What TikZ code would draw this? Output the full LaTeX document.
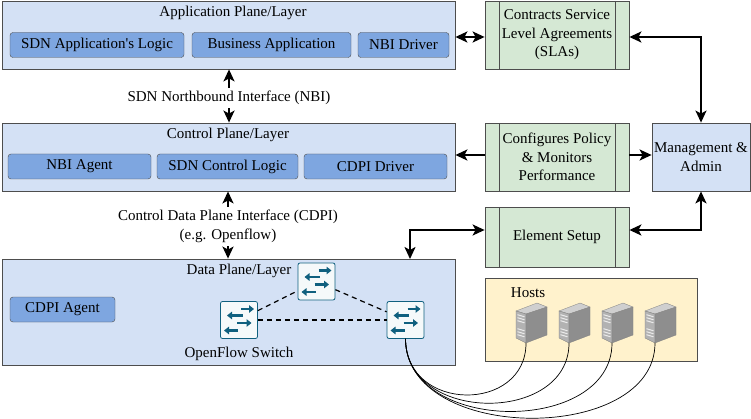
\documentclass[tikz,border=0pt]{standalone}
\usepackage{fontspec}
\setmainfont{Liberation Serif}
\usetikzlibrary{arrows.meta}

\definecolor{layerblue}{HTML}{D4E1F5}
\definecolor{boxblue}{HTML}{7EA6E0}
\definecolor{procgreen}{HTML}{D5E8D4}
\definecolor{hostyellow}{HTML}{FFF2CC}
\definecolor{edgegray}{HTML}{4D4D4D}
\definecolor{switchteal}{HTML}{10607F}
\definecolor{srvtop}{HTML}{CFCFCF}
\definecolor{srvfront}{HTML}{B2B2B2}
\definecolor{srvside}{HTML}{8E8E8E}

\tikzset{
  layer/.style={draw=edgegray, fill=layerblue, line width=0.8pt, minimum width=453pt, inner sep=0pt},
  block/.style={draw=edgegray, fill=boxblue, rounded corners=3pt, minimum height=25pt, inner sep=0pt},
  process/.style={draw=edgegray, fill=procgreen, line width=0.8pt, minimum width=144pt, align=center, inner sep=0pt,
    path picture={\draw[edgegray, line width=0.8pt]
      ([xshift=14pt]path picture bounding box.north west) -- ([xshift=14pt]path picture bounding box.south west)
      ([xshift=-14pt]path picture bounding box.north east) -- ([xshift=-14pt]path picture bounding box.south east);}},
  switchbox/.style={draw=switchteal, fill=white!96!switchteal, line width=0.8pt, rounded corners=2pt,
    minimum size=37pt, inner sep=0pt,
    path picture={
      \begin{scope}[shift={(path picture bounding box.center)}, switchteal, line width=2.6pt,
        -{Triangle[length=5pt,width=7.5pt]}]
        \draw (2,-11) -- (15,-11);
        \draw (3.5,-4.5) -- (-12,-4.5);
        \draw (-2,3) -- (12.5,3);
        \draw (-1,10.5) -- (-15,10.5);
      \end{scope}}},
  arr/.style={line width=2pt, -{Stealth[length=12pt,width=11pt,inset=3pt]}},
  arr2/.style={line width=2pt, {Stealth[length=12pt,width=11pt,inset=3pt]}-{Stealth[length=12pt,width=11pt,inset=3pt]}},
  link/.style={line width=1.2pt, dash pattern=on 5pt off 4pt},
  cable/.style={line width=0.7pt},
  server/.pic={
    \filldraw[srvtop, draw=gray, line width=0.3pt] (-10,-32) -- (0,-29) -- (21,-36) -- (11,-40) -- cycle;
    \filldraw[srvfront, draw=gray, line width=0.3pt] (-10,-32) -- (0,-29) -- (0,0) -- (-10,-5) -- cycle;
    \filldraw[srvside, draw=gray, line width=0.3pt] (0,-29) -- (21,-36) -- (21,-8) -- (0,0) -- cycle;
    \foreach \s in {-25,-22,-19,-11,-8,-5}
      \draw[white!85!gray, line width=1pt] (-8.5,\s-3.3) -- (-1.5,\s-1.2);
    \coordinate (-bot) at (0,0);
  }
}

\begin{document}
\begin{tikzpicture}[x=1pt, y=-1pt, font=\fontsize{15}{18.5}\selectfont]
  \useasboundingbox (0,0) rectangle (751,419);

  % layers
  \node[layer, minimum height=68pt] (app) at (228.5,35) {};
  \node (applbl) at (233,13) {Application Plane/Layer};
  \node[block, minimum width=174pt] (sdnapp) at (97,45) {SDN Application\textquotesingle s Logic};
  \node[block, minimum width=159pt] (bizapp) at (271.5,45) {Business Application};
  \node[block, minimum width=91pt] (nbidrv) at (403.5,45) {NBI Driver};

  \node[layer, minimum height=68pt] (ctrl) at (228.5,157) {};
  \node (ctrllbl) at (228,135) {Control Plane/Layer};
  \node[block, minimum width=143pt] (nbiagent) at (79.5,166.5) {NBI Agent};
  \node[block, minimum width=141pt] (ctrllogic) at (227.5,166.5) {SDN Control Logic};
  \node[block, minimum width=143pt] (cdpidrv) at (375.5,166.5) {CDPI Driver};

  \node[layer, minimum height=106pt] (data) at (228.5,312) {};
  \node (datalbl) at (239,271) {Data Plane/Layer};
  \node[block, minimum width=105pt] (cdpiagent) at (62.5,309.5) {CDPI Agent};
  \node (oflbl) at (239,354) {OpenFlow Switch};

  \node[switchbox] (sw1) at (316.5,281.5) {};
  \node[switchbox] (sw2) at (239,320) {};
  \node[switchbox] (sw3) at (405.5,320) {};
  \draw[link] (sw2) -- (sw1);
  \draw[link] (sw1) -- (sw3);
  \draw[link] (sw2) -- (sw3);

  % interfaces
  \node (nbi) at (229,98) {SDN Northbound Interface (NBI)};
  \node[align=center] (cdpi) at (228,226.5) {Control Data Plane Interface (CDPI)\\(e.g. Openflow)};
  \draw[arr] (nbi.north) -- (nbi.north |- app.south);
  \draw[arr] (nbi.south) -- (nbi.south |- ctrl.north);
  \draw[arr] (cdpi.north) -- (cdpi.north |- ctrl.south);
  \draw[arr] (cdpi.south) -- (cdpi.south |- data.north);

  % management side
  \node[process, minimum height=68pt] (sla) at (557,35) {Contracts Service\\Level Agreements\\(SLAs)};
  \node[process, minimum height=68pt] (policy) at (557,157) {Configures Policy\\\& Monitors\\Performance};
  \node[process, minimum height=60pt] (setup) at (557,237) {Element Setup};
  \node[draw=edgegray, fill=layerblue, line width=0.8pt, minimum width=98pt, minimum height=68pt,
        align=center, inner sep=0pt] (mgmt) at (701,157) {Management \&\\Admin};
  \coordinate (datain) at (410,259);

  \draw[arr2] (app.east |- 0,37) -- (sla.west |- 0,37);
  \draw[arr] (policy.west |- 0,155) -- (ctrl.east |- 0,155);
  \draw[arr] (policy.east |- 0,155) -- (mgmt.west |- 0,155);
  \draw[arr2] (sla.east |- 0,37) -| (mgmt.north);
  \draw[arr2] (setup.east |- 0,230) -| (mgmt.south);
  \draw[arr2] (setup.west |- 0,230) -| (datain);

  % hosts
  \node[draw=edgegray, fill=hostyellow, line width=0.8pt, minimum width=212pt, minimum height=83pt] (hosts) at (591,319.5) {};
  \node (hostlbl) at (528,293) {Hosts};
  \pic (h1) at (526,343) {server};
  \pic (h2) at (569,343) {server};
  \pic (h3) at (612,343) {server};
  \pic (h4) at (655,343) {server};

  \draw[cable] (sw3.south) .. controls (406,413) and (526,413) .. (h1-bot);
  \draw[cable] (sw3.south) .. controls (406,424) and (569,424) .. (h2-bot);
  \draw[cable] (sw3.south) .. controls (406,435) and (612,435) .. (h3-bot);
  \draw[cable] (sw3.south) .. controls (406,444) and (655,444) .. (h4-bot);
\end{tikzpicture}
\end{document}
